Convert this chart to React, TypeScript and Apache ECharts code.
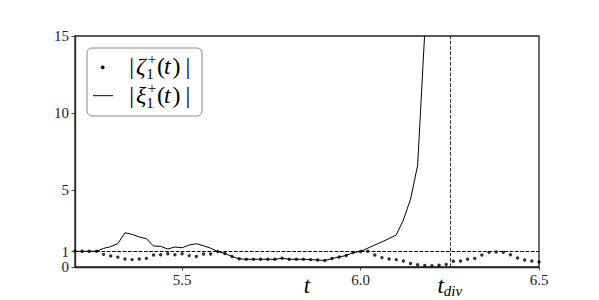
import React, { useEffect, useRef } from "react";
import * as echarts from "echarts";

const T = [
  5.2, 5.22, 5.24, 5.26, 5.28, 5.3, 5.32, 5.34, 5.36, 5.38,
  5.4, 5.42, 5.44, 5.46, 5.48, 5.5, 5.52, 5.54, 5.56, 5.58,
  5.6, 5.62, 5.64, 5.66, 5.68, 5.7, 5.72, 5.74, 5.76, 5.78,
  5.8, 5.82, 5.84, 5.86, 5.88, 5.9, 5.92, 5.94, 5.96, 5.98,
  6.0, 6.02, 6.04, 6.06, 6.08, 6.1, 6.12, 6.14, 6.16, 6.18,
  6.2, 6.22, 6.24, 6.26, 6.28, 6.3, 6.32, 6.34, 6.36, 6.38,
  6.4, 6.42, 6.44, 6.46, 6.48, 6.5,
];

const ZETA = [
  1.02, 1.02, 1.02, 1.02, 0.82, 0.72, 0.64, 0.52, 0.48, 0.52,
  0.56, 0.78, 0.8, 0.86, 0.8, 0.86, 0.74, 0.68, 0.84, 0.84,
  1.0, 0.88, 0.68, 0.53, 0.5, 0.5, 0.5, 0.5, 0.5, 0.57,
  0.5, 0.5, 0.5, 0.48, 0.45, 0.42, 0.55, 0.65, 0.75, 0.94,
  1.01, 1.02, 0.78, 0.61, 0.52, 0.48, 0.39, 0.23, 0.14, 0.1,
  0.09, 0.11, 0.17, 0.37, 0.39, 0.5, 0.56, 0.78, 0.95, 0.97,
  0.95, 0.8, 0.58, 0.45, 0.39, 0.32,
];

const XI = [
  1.02, 1.02, 1.02, 1.02, 1.21, 1.32, 1.52, 2.22, 2.12, 1.95,
  1.84, 1.36, 1.34, 1.17, 1.3, 1.25, 1.43, 1.51, 1.38, 1.22,
  1.0, 0.88, 0.68, 0.53, 0.5, 0.5, 0.5, 0.5, 0.5, 0.57,
  0.5, 0.5, 0.5, 0.48, 0.45, 0.42, 0.55, 0.65, 0.75, 0.94,
  1.01, 1.22, 1.43, 1.63, 1.85, 2.08, 3.05, 4.4, 6.6, 15.3,
  40,
];

const X_TICKS = [5.5, 6.0, 6.5];
const Y_TICKS = [0, 1, 5, 10, 15];
const T_DIV = 6.25;
const REF_LEVEL = 1;

const SERIF = "'Liberation Serif', 'DejaVu Serif', serif";

function legendRow(sym: string, yc: number): any[] {
  const big = { fontSize: 24, fontFamily: SERIF, fill: "#000", verticalAlign: "middle" };
  const small = { fontSize: 15, fontFamily: SERIF, fill: "#000", verticalAlign: "middle", align: "center" };
  const z = 110;
  return [
    { type: "text", z, x: 131.7, y: yc, style: { ...big, text: "|", align: "center" } },
    { type: "text", z, x: 136, y: yc, style: { ...big, text: sym, fontStyle: "italic", align: "left" } },
    { type: "text", z, x: 152, y: yc - 7, style: { ...small, text: "+" } },
    { type: "text", z, x: 150, y: yc + 8, style: { ...small, text: "1" } },
    { type: "text", z, x: 157, y: yc, style: { ...big, text: "(", align: "left" } },
    { type: "text", z, x: 164, y: yc, style: { ...big, text: "t", fontStyle: "italic", align: "left" } },
    { type: "text", z, x: 172.5, y: yc, style: { ...big, text: ")", align: "left" } },
    { type: "text", z, x: 188, y: yc, style: { ...big, text: "|", align: "center" } },
  ];
}

export default function App() {
  const ref = useRef<HTMLDivElement>(null);
  useEffect(() => {
    if (!ref.current) return;
    const chart = echarts.init(ref.current, null, { renderer: "svg" });
    const axisColor = "#222";
    chart.setOption({
      animation: false,
      backgroundColor: "#fff",
      grid: {
        left: 75,
        right: 60,
        top: 36,
        bottom: 33,
        show: true,
        borderColor: axisColor,
        borderWidth: 1.3,
        backgroundColor: "transparent",
        outerBoundsMode: "none",
        containLabel: false,
      },
      xAxis: [
        {
          type: "value",
          min: 5.2,
          max: 6.5,
          position: "bottom",
          axisLine: { show: true, lineStyle: { color: axisColor, width: 1.3 } },
          axisTick: { show: true, customValues: X_TICKS, length: 3.5, lineStyle: { color: axisColor, width: 0.8 } },
          axisLabel: {
            customValues: X_TICKS,
            formatter: (v: number) => v.toFixed(1),
            fontSize: 15,
            fontFamily: SERIF,
            color: "#222",
            margin: 5,
            showMinLabel: true,
            showMaxLabel: true,
          },
          splitLine: { show: false },
          name: "t",
          nameLocation: "middle",
          nameGap: 7,
          nameMoveOverlap: false,
          nameTextStyle: { fontSize: 23, fontStyle: "italic", fontFamily: SERIF, color: "#000" },
        },
        {
          type: "value",
          min: 5.2,
          max: 6.5,
          position: "bottom",
          axisLine: { show: false },
          axisTick: { show: false },
          splitLine: { show: false },
          axisLabel: {
            customValues: [T_DIV],
            formatter: () => "{a|t}{b|div}",
            margin: 5,
            rich: {
              a: { fontSize: 23, fontStyle: "italic", fontFamily: SERIF, color: "#000", lineHeight: 26 },
              b: { fontSize: 15, fontStyle: "italic", fontFamily: SERIF, color: "#000", lineHeight: 10, verticalAlign: "bottom" },
            },
          },
        },
      ],
      yAxis: {
        type: "value",
        min: 0,
        max: 15,
        axisLine: { show: true, lineStyle: { color: axisColor, width: 1.3 } },
        axisTick: { show: true, customValues: Y_TICKS, length: 3.5, lineStyle: { color: axisColor, width: 0.8 } },
        axisLabel: {
          customValues: Y_TICKS,
          fontSize: 15,
          fontFamily: SERIF,
          color: "#222",
          margin: 6,
          showMinLabel: true,
          showMaxLabel: true,
          hideOverlap: false,
        },
        splitLine: { show: false },
      },
      series: [
        {
          type: "line",
          data: XI.map((v, i) => [T[i], v]),
          symbol: "none",
          showSymbol: false,
          clip: true,
          lineStyle: { color: "#000", width: 1 },
          markLine: {
            silent: true,
            symbol: "none",
            label: { show: false },
            lineStyle: { color: "#000", width: 1, type: [3.7, 1.6] },
            data: [{ yAxis: REF_LEVEL }, { xAxis: T_DIV, lineStyle: { color: "#333", width: 1, type: [3.7, 1.6] } }],
          },
        },
        {
          type: "scatter",
          data: ZETA.map((v, i) => [T[i], v]),
          symbolSize: 3.4,
          clip: false,
          itemStyle: { color: "#000" },
        },
      ],
      graphic: [
        {
          type: "rect",
          shape: { x: 87, y: 48, width: 115, height: 68, r: 5 },
          style: { fill: "#fff", stroke: "#888", lineWidth: 1 },
          z: 100,
        },
        { type: "circle", z: 110, shape: { cx: 102.7, cy: 67.3, r: 1.9 }, style: { fill: "#000" } },
        { type: "line", z: 110, shape: { x1: 93, y1: 95.7, x2: 113, y2: 95.7 }, style: { stroke: "#000", lineWidth: 1 } },
        ...legendRow("ζ", 65.5),
        ...legendRow("ξ", 95),
      ],
    });
    return () => chart.dispose();
  }, []);
  return (
    <div
      ref={ref}
      style={{ width: 599, height: 300, position: "absolute", left: 0, top: 0 }}
    />
  );
}
